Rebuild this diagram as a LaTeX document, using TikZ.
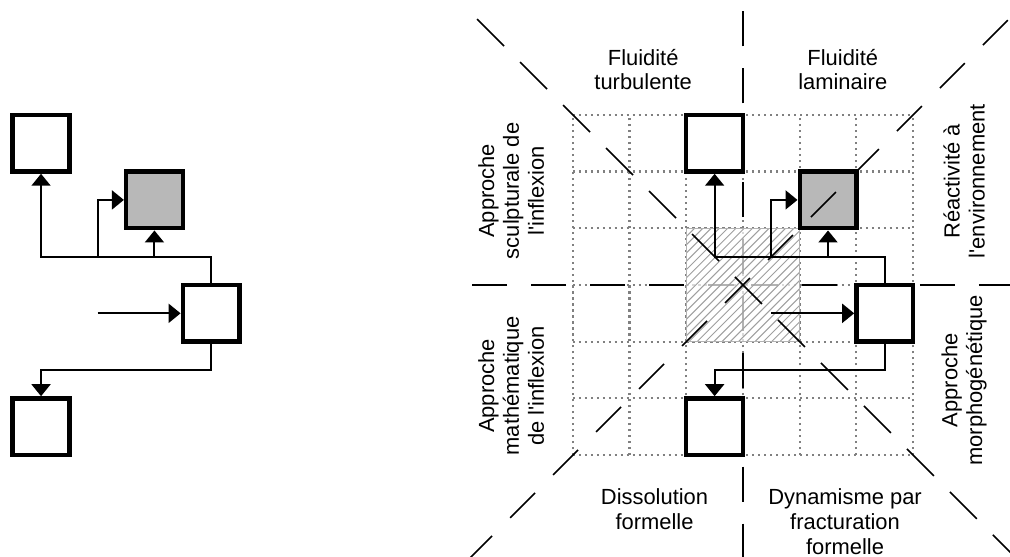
\documentclass[tikz,border=0pt]{standalone}
\usepackage{fontspec}
\setmainfont{Liberation Sans}
\usetikzlibrary{arrows.meta}

\begin{document}
\begin{tikzpicture}[line width=1pt,>={Triangle[length=6pt,width=9.5pt]},
  boite/.style={draw,line width=2.2pt,fill=white,minimum size=1cm,inner sep=0pt,outer sep=1.1pt},
  axe/.style={line width=0.8pt},
  grille/.style={black!50,line width=1.1pt,dash pattern=on 1.1pt off 1.9pt},
  etiq/.style={align=center,font=\fontsize{11pt}{12.5pt}\selectfont}]
  \useasboundingbox (-13.104,-4.797) rectangle (4.709,5.026);
  % grille pointillee
  \foreach \i in {-3,...,3}{
    \draw[grille] (\i,-3) -- (\i,3);
    \draw[grille] (-3,\i) -- (3,\i);
  }
  % axes en tirets
  \foreach \k in {0,...,4}{
    \draw[axe] (0,{0.19+1.005*\k}) -- (0,{0.81+1.005*\k});
    \draw[axe] (0,{-0.19-1.005*\k}) -- (0,{-0.81-1.005*\k});
  }
  \foreach \k in {1,...,4}{
    \draw[axe] ({1.04*\k},0) -- ({1.04*\k+0.62},0);
    \draw[axe] ({-1.04*\k},0) -- ({-1.04*\k-0.62},0);
  }
  \draw[axe] (-0.62,0) -- (-0.15,0) (0.15,0) -- (0.62,0);
  % zone hachuree
  \fill[white,opacity=0.7] (-1,-1) rectangle (1,1);
  \begin{scope}
    \clip (-1,-1) rectangle (1,1);
    \foreach \i in {-3,-2.854,...,1}
      \draw[gray!75,line width=0.5pt] (\i,-1) -- ++(2,2);
  \end{scope}
  \draw[gray!60,line width=0.6pt] (-1,-1) rectangle (1,1);
  % les deux schemas de boites
  \foreach \dx/\p in {0/d,-11.88/g}{
    \begin{scope}[xshift=\dx cm]
      \node[boite] (\p-haut) at (-0.5,2.5) {};
      \node[boite,fill=black!28] (\p-gris) at (1.5,1.5) {};
      \node[boite] (\p-droite) at (2.5,-0.5) {};
      \node[boite] (\p-bas) at (-0.5,-2.5) {};
      \coordinate (\p-b1) at (0.5,0.5);
      \coordinate (\p-b2) at (1.5,0.5);
      \coordinate (\p-b3) at (2.5,-1.5);
      \coordinate (\p-entree) at (0.5,-0.5);
      \draw[->] (\p-droite.north) |- (\p-b1) -| (\p-haut.south);
      \draw[->] (\p-b1) |- (\p-gris.west);
      \draw[->] (\p-b2) -- (\p-gris.south);
      \draw[->] (\p-entree) -- (\p-droite.west);
      \draw[->] (\p-droite.south) -- (\p-b3) -| (\p-bas.north);
    \end{scope}
  }
  % diagonales
  \foreach \k in {-6,...,6}{
    \draw[axe] ({-0.141+0.758*\k},{0.141-0.758*\k}) -- ({0.335+0.758*\k},{-0.335-0.758*\k});
    \draw[axe] ({-0.317+0.758*\k},{-0.317+0.758*\k}) -- ({0.123+0.758*\k},{0.123+0.758*\k});
  }
  % etiquettes
  \node[etiq] (turb) at (-1.76,3.8) {Fluidité\\turbulente};
  \node[etiq] (lam) at (1.76,3.8) {Fluidité\\laminaire};
  \node[etiq] (diss) at (-1.56,-3.96) {Dissolution\\formelle};
  \node[etiq] (dyn) at (1.8,-4.18) {Dynamisme par\\fracturation\\formelle};
  \node[etiq,rotate=90] (sculpt) at (-4.09,1.66) {Approche\\sculpturale de\\l\textquotesingle inflexion};
  \node[etiq,rotate=90] (math) at (-4.09,-1.78) {Approche\\mathématique\\de l\textquotesingle inflexion};
  \node[etiq,rotate=90] (react) at (3.9,1.83) {Réactivité à\\l\textquotesingle environnement};
  \node[etiq,rotate=90] (morpho) at (3.9,-1.68) {Approche\\morphogénétique};
\end{tikzpicture}
\end{document}
